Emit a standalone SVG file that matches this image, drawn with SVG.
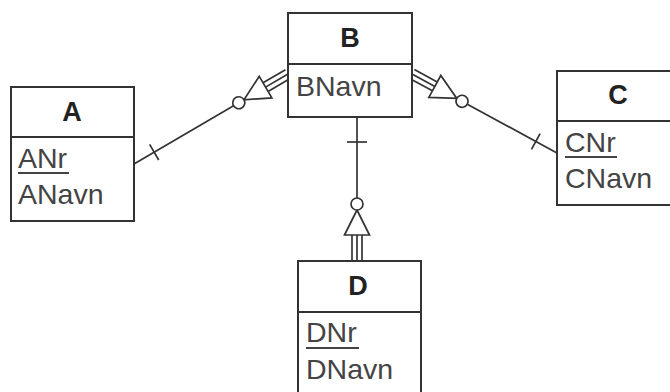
<svg xmlns="http://www.w3.org/2000/svg" xmlns:xlink="http://www.w3.org/1999/xlink" width="670" height="392" viewBox="0 0 670 392">
<style>
.box{fill:#fff;stroke:#333;stroke-width:2}
.div{stroke:#333;stroke-width:2}
.ttl{font-family:"Liberation Sans",Arial,sans-serif;font-weight:bold;font-size:27px;fill:#222;text-anchor:middle}
.att{font-family:"Liberation Sans",Arial,sans-serif;font-size:28.5px;fill:#444}
.ul{stroke:#444;stroke-width:1.8}
.ln{stroke:#333;stroke-width:1.7;fill:#fff}
</style>
<defs>
<g id="sub" class="ln">
<line x1="0" y1="-5" x2="26" y2="-5"/>
<line x1="0" y1="0" x2="26" y2="0"/>
<line x1="0" y1="5" x2="26" y2="5"/>
<polygon points="26,-12.5 26,12.5 51,0"/>
<circle cx="57" cy="0" r="6"/>
</g>
</defs>
<rect width="670" height="392" fill="#fff"/>
<g id="connectors" class="ln">
<g transform="translate(288,74) rotate(149.7)">
<use xlink:href="#sub"/>
<line x1="63" y1="0" x2="178.4" y2="0"/>
<line x1="155" y1="-9" x2="155" y2="9"/>
</g>
<g transform="translate(412,74) rotate(28.6)">
<use xlink:href="#sub"/>
<line x1="63" y1="0" x2="165.1" y2="0"/>
<line x1="141" y1="-9" x2="141" y2="9"/>
</g>
<g transform="translate(357,261) rotate(-90)">
<use xlink:href="#sub"/>
<line x1="63" y1="0" x2="144" y2="0"/>
<line x1="119" y1="-10" x2="119" y2="10"/>
</g>
</g>
<g id="B">
<rect class="box" x="288" y="13" width="124" height="104"/>
<line class="div" x1="288" y1="64" x2="412" y2="64"/>
<text class="ttl" x="350" y="47">B</text>
<text class="att" x="296" y="96">BNavn</text>
</g>
<g id="A">
<rect class="box" x="11" y="87" width="123" height="134"/>
<line class="div" x1="11" y1="137" x2="134" y2="137"/>
<text class="ttl" x="72" y="121">A</text>
<text class="att" x="18" y="168">ANr</text>
<line class="ul" x1="18" y1="173" x2="69" y2="173"/>
<text class="att" x="18" y="204">ANavn</text>
</g>
<g id="C">
<rect class="box" x="557" y="71" width="124" height="134"/>
<line class="div" x1="557" y1="121" x2="681" y2="121"/>
<text class="ttl" x="618" y="104">C</text>
<text class="att" x="565" y="152">CNr</text>
<line class="ul" x1="565" y1="157" x2="617" y2="157"/>
<text class="att" x="565" y="188">CNavn</text>
</g>
<g id="D">
<rect class="box" x="298" y="261" width="123" height="140"/>
<line class="div" x1="298" y1="312" x2="421" y2="312"/>
<text class="ttl" x="358" y="295">D</text>
<text class="att" x="306" y="342">DNr</text>
<line class="ul" x1="306" y1="348" x2="359" y2="348"/>
<text class="att" x="306" y="379">DNavn</text>
</g>
</svg>
